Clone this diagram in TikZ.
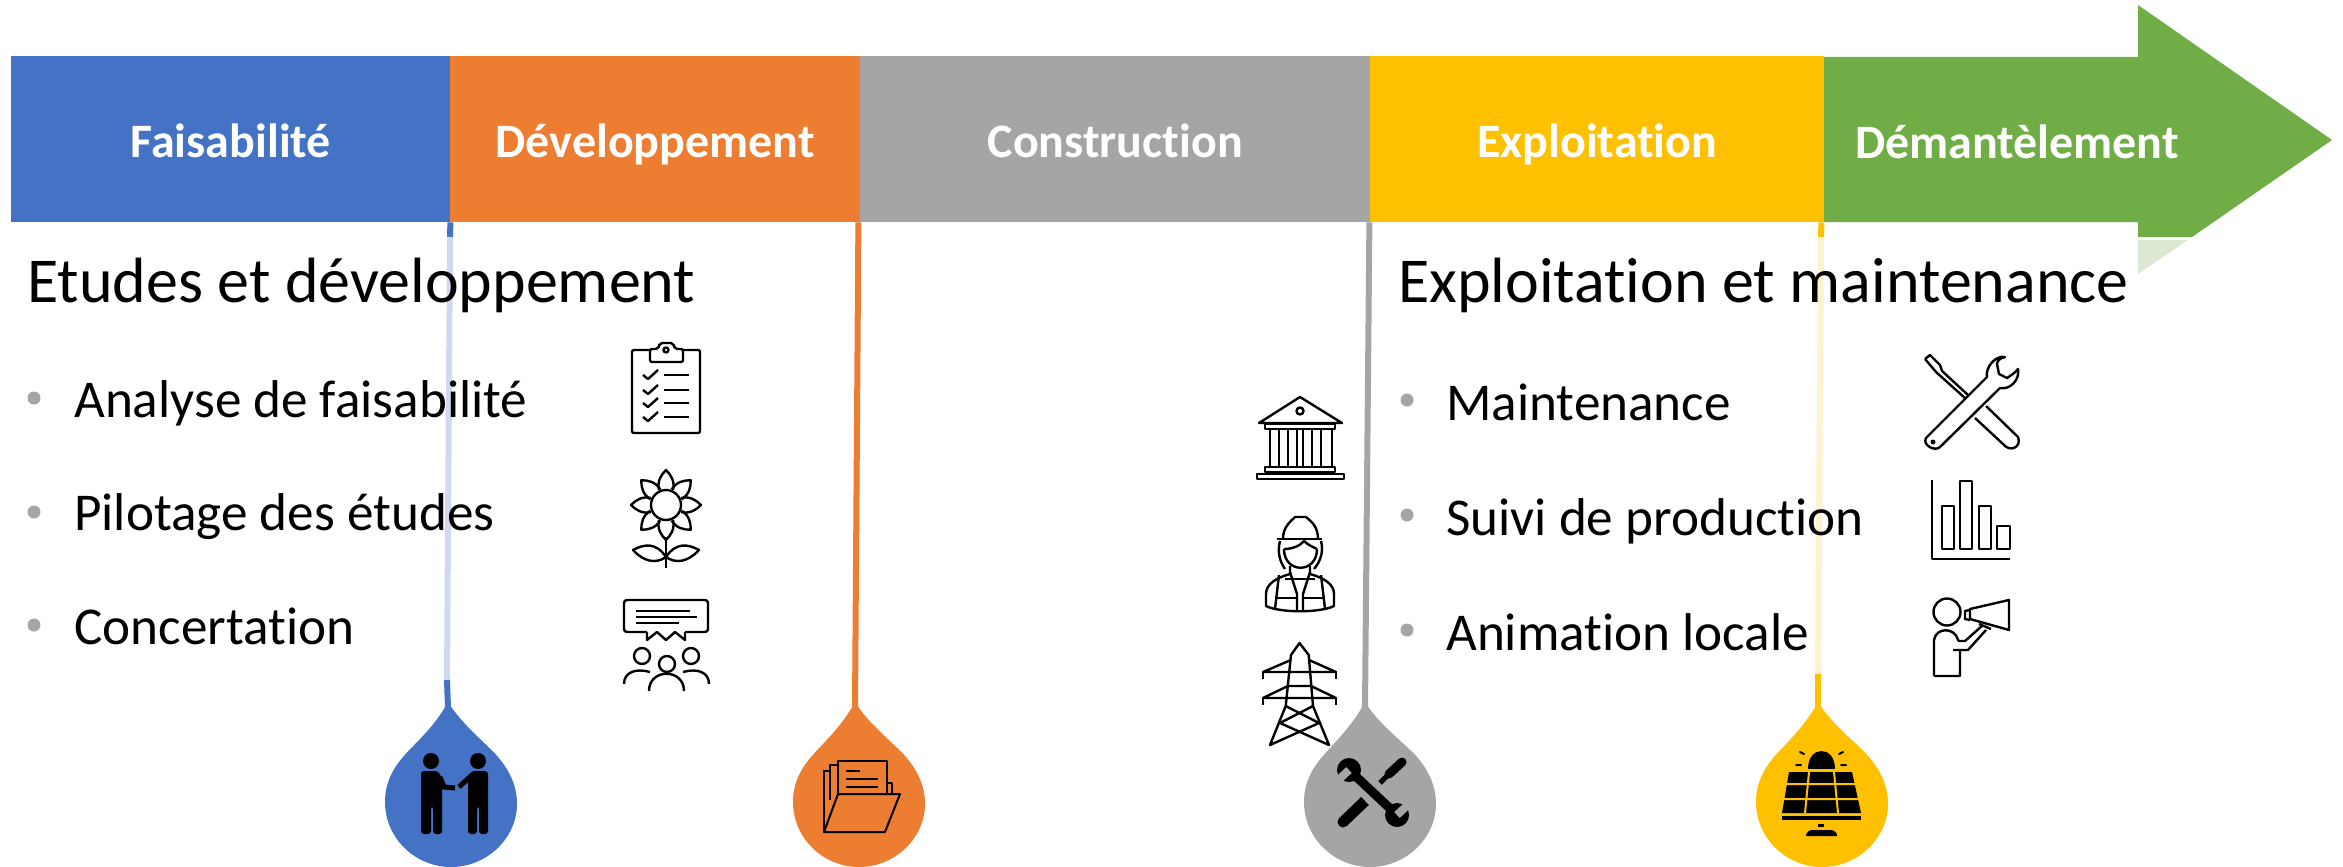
\documentclass[tikz,border=0pt]{standalone}
\usepackage{fontspec}
\setmainfont[Ligatures=NoCommon]{Carlito}
\usepackage{tikz}
\definecolor{bandblue}{HTML}{4472C4}
\definecolor{bandorange}{HTML}{ED7D31}
\definecolor{bandgrey}{HTML}{A5A5A5}
\definecolor{bandyellow}{HTML}{FFC000}
\definecolor{bandgreen}{HTML}{70AD47}
\definecolor{paleblue}{HTML}{CFDAF0}
\definecolor{paleyellow}{HTML}{FFF2CC}
\definecolor{palegreen}{HTML}{DDE8D3}
\tikzset{
 bandbox/.style={anchor=north west, minimum height=166pt, inner sep=0pt, text=white, text height=45pt, text depth=8pt, font=\fontsize{48}{48}\selectfont\bfseries},
 heading/.style={anchor=base west, inner sep=0pt, font=\fontsize{64}{64}\selectfont},
 listitem/.style={anchor=base west, inner sep=0pt, font=\fontsize{53.2}{53.2}\selectfont},
 dotmark/.style={circle, fill=bandgrey, minimum size=13pt, inner sep=0pt},
 stem/.style={line width=6pt},
 icon/.style={line width=2.4pt, line join=round},
}
\begin{document}
\begin{tikzpicture}[x=1pt,y=-1pt]
 \useasboundingbox (0,0) rectangle (2343,867);
 \coordinate (paleA) at (450,237);
 \coordinate (paleB) at (447,680);
 \coordinate (paleC) at (1821,237);
 \coordinate (paleD) at (1818,674);
 \foreach \nm/\cx/\nx/\col in {dropA/451/448/bandblue, dropB/859/855/bandorange, dropC/1370/1365/bandgrey, dropD/1822/1818/bandyellow}{
  \coordinate (\nm) at (\nx,708);
  \fill[\col] (\nx,702) .. controls (\nx-14,728) and (\cx-38,745) .. (\cx-48,757)
   .. controls (\cx-60,771) and (\cx-66,785) .. (\cx-66,802)
   .. controls (\cx-66,838) and (\cx-36,867) .. (\cx,867)
   .. controls (\cx+36,867) and (\cx+66,838) .. (\cx+66,804)
   .. controls (\cx+66,785) and (\cx+58,770) .. (\cx+47,757)
   .. controls (\cx+37,745) and (\nx+14,725) .. (\nx,702) -- cycle;
 }
 \fill[bandgreen] (1824,57) -- (2138,57) -- (2138,5) -- (2332,140) -- (2192,237) -- (2138,237) -- (2138,222) -- (1824,222) -- cycle;
 \fill[palegreen] (2138,240) -- (2188,240) -- (2138,274) -- cycle;
 \node[bandbox, fill=bandblue, minimum width=439pt] (faisa) at (11,56) {Faisabilité};
 \node[bandbox, fill=bandorange, minimum width=410pt] (devel) at (450,56) {Développement};
 \node[bandbox, fill=bandgrey, minimum width=510pt] (constr) at (860,56) {Construction};
 \node[bandbox, fill=bandyellow, minimum width=454pt] (exploit) at (1370,56) {Exploitation};
 \node[bandbox, anchor=center, minimum height=0pt] (demant) at (2017,139.5) {Démantèlement};
 \path[stem]
  (faisa.south east) edge[draw=bandblue] (paleA)
  (paleA) edge[draw=paleblue] (paleB)
  (paleB) edge[draw=bandblue] (dropA)
  ([xshift=-2pt]devel.south east) edge[draw=bandorange] (dropB)
  ([xshift=-1pt]constr.south east) edge[draw=bandgrey] (dropC)
  ([xshift=-3pt]exploit.south east) edge[draw=bandyellow] (paleC)
  (paleC) edge[draw=paleyellow] (paleD)
  (paleD) edge[draw=bandyellow] (dropD)
;
 \node[heading] (etudes) at (27,302) {Etudes et développement};
 \node[heading] (mainten) at (1398,302) {Exploitation et maintenance};
 \foreach \nm/\y/\base/\txt in {Analyse/398/417/Analyse de faisabilité, Pilotage/512/530/Pilotage des études, Concert/625/644/Concertation}{
  \node[dotmark] (dot\nm) at (34,\y) {};
  \node[listitem] (\nm) at (74,\base) {\txt};
 }
 \foreach \nm/\y/\base/\txt in {Maint/400/420/Maintenance, Suivi/515/535/Suivi de production, Animation/630/650/Animation locale}{
  \node[dotmark] (dot\nm) at (1407,\y) {};
  \node[listitem] (\nm) at (1446,\base) {\txt};
 }
 \begin{scope}[icon]
  \draw[rounded corners=2pt] (650,350) -- (632,350) -- (632,433) -- (700,433) -- (700,350) -- (683,350);
  \draw[rounded corners=2pt] (650,362) -- (650,349) -- (658,349) -- (660,343) -- (673,343) -- (675,349) -- (683,349) -- (683,362) -- cycle;
  \draw (666,350) circle (2.5pt);
  \foreach \y in {375,390,403,417}{
   \draw (664,\y) -- (689,\y);
   \draw (643,\y) -- (648,\y+4) -- (658,\y-5);
  }
  \draw (666,505) circle (15pt);
  \foreach \a in {0,45,...,315}{
   \draw[rotate around={\a:(666,505)}] (681,498) .. controls (690,496) and (696,500) .. (701,505) .. controls (696,510) and (690,514) .. (681,512);
  }
  \draw (666,537) -- (666,568);
  \draw (666,557) .. controls (656,542) and (644,544) .. (633,550) .. controls (644,562) and (656,564) .. (666,557)
   .. controls (676,542) and (688,544) .. (699,550) .. controls (688,562) and (676,564) .. (666,557);
  \draw[rounded corners=3pt] (647,632) -- (624,632) -- (624,600) -- (708,600) -- (708,632) -- (685,632);
  \draw (647,632) -- (647,640) -- (657,632) -- (666,640) -- (675,632) -- (685,640) -- (685,632);
  \draw (636,611) -- (690,611) (636,617) -- (697,617) (636,623) -- (679,623);
  \draw (642,656) circle (8pt) (667,664) circle (8pt) (691,656) circle (8pt);
  \draw (624,684) .. controls (624,672) and (636,668) .. (650,672);
  \draw (709,684) .. controls (709,672) and (697,668) .. (683,672);
  \draw (649,691) .. controls (649,668) and (684,668) .. (684,691);
  \draw (1259,423) -- (1300,397) -- (1342,423) -- cycle;
  \draw (1300,411) circle (3.5pt);
  \draw (1265,424) rectangle (1335,429);
  \foreach \x in {1270,1279,1288,1297,1303,1312,1321,1332}{
   \draw (\x,429) -- (\x,467);
  }
  \draw (1265,467) rectangle (1335,472);
  \draw (1257,474) rectangle (1344,479);
  \draw (1277,539) -- (1322,539);
  \draw (1283,539) .. controls (1283,527) and (1290,522) .. (1295,517) -- (1306,517) .. controls (1312,522) and (1318,527) .. (1318,539);
  \draw (1280,541) .. controls (1277,552) and (1280,562) .. (1285,569);
  \draw (1321,541) .. controls (1324,552) and (1320,562) .. (1314,569);
  \draw (1284,549) .. controls (1292,549) and (1300,546) .. (1304,541) .. controls (1308,545) and (1313,547) .. (1317,549);
  \draw (1284,549) .. controls (1284,574) and (1317,574) .. (1317,549);
  \draw (1290,566) -- (1290,574) .. controls (1276,578) and (1266,584) .. (1266,594) -- (1266,606) .. controls (1280,613) and (1320,613) .. (1334,606) -- (1334,594) .. controls (1334,584) and (1324,578) .. (1310,574) -- (1310,566);
  \draw (1290,572) -- (1297,594) -- (1297,610) (1310,572) -- (1303,594) -- (1303,610);
  \draw (1279,575) -- (1275,609) (1321,575) -- (1325,609);
  \draw (1276,598) -- (1297,598) (1303,598) -- (1324,598);
  \draw (1285,579) -- (1315,579);
  \draw (1285.7,706) -- (1291,655) -- (1299.5,643) -- (1308.7,655) -- (1313,706);
  \draw (1285.7,706) -- (1270,745) -- (1319,723) -- (1285.7,706);
  \draw (1313,706) -- (1329,745) -- (1280,723) -- (1313,706);
  \draw (1291,660) -- (1263,672) -- (1336,672) -- (1309,660);
  \draw (1263,672) -- (1263,679) (1336,672) -- (1336,679);
  \draw (1288,686) -- (1263,698) -- (1336,698) -- (1311,686) -- cycle;
  \draw (1263,698) -- (1263,705) (1336,698) -- (1336,705);
  \draw (1926,438) -- (1987,377) .. controls (1985,368) and (1995,355) .. (2005,357) .. controls (2000,358) and (1997,361) .. (1997,364) -- (1999,374) -- (2007,378) .. controls (2010,376) and (2015,373) .. (2018,369) .. controls (2020,380) and (2010,390) .. (2000,388) -- (1940,447) .. controls (1935,452) and (1922,445) .. (1926,438) -- cycle;
  \fill (1933,442) circle (2.5pt);
  \draw (1925,359) -- (1930,355) -- (1940,365) -- (1942,371) -- (1968,395);
  \draw (1925,359) -- (1936,372) -- (1966,399);
  \draw (1986,406) -- (2018,437) .. controls (2022,447) and (2010,453) .. (2003,444) -- (1975,418);
  \draw (1932,480) -- (1932,559) -- (2010,559);
  \draw (1942,506) rectangle (1954,549);
  \draw (1960,481) rectangle (1972,549);
  \draw (1979,506) rectangle (1991,549);
  \draw (1997,526) rectangle (2010,549);
  \draw (1947,612) circle (13.5pt);
  \draw (1934,676) -- (1934,640) .. controls (1936,627) and (1955,627) .. (1958,640) -- (1959,641) -- (1965,641) -- (1983,625);
  \draw (1986,630) -- (1968,650) -- (1953,650) (1960,650) -- (1960,676) -- (1934,676);
  \draw (1970,609) -- (2009,600) -- (2009,630) -- (1970,619) -- cycle;
  \draw (1970,610) -- (1965,611) -- (1965,619) -- (1970,620);
  \draw (1979,624) -- (1991,629);
 \end{scope}
 \draw[icon, line width=2pt] (838,794) -- (838,761) -- (887,761) -- (887,794);
 \draw[icon, line width=2pt] (838,765) -- (830,765) -- (830,800);
 \draw[icon, line width=2pt] (830,771) -- (824,771) -- (824,832);
 \draw[icon, line width=2pt] (887,783) -- (892,783) -- (892,794);
 \draw[icon, line width=2pt] (838,794) -- (900,794) -- (885,832) -- (824,832) -- cycle;
 \draw[icon, line width=2pt] (846,771) -- (860,771) (846,779) -- (878,779) (846,787) -- (878,787);
 \fill (431,761) circle (8pt) (478,761) circle (8pt);
 \fill[rounded corners=3pt] (421,771) -- (438,771) -- (442,778) -- (442,834) -- (433,834) -- (433,806) -- (431,806) -- (431,834) -- (421,834) -- cycle;
 \draw[line width=5pt] (440,777) -- (444,787) -- (455,788);
 \fill[rounded corners=3pt] (471,771) -- (488,771) -- (488,834) -- (479,834) -- (479,806) -- (477,806) -- (477,834) -- (468,834) -- (468,781) -- cycle;
 \draw[line width=5pt] (472,775) -- (459,787);
 \draw[line width=9pt] (1349,770) -- (1397,815);
 \fill (1349,770) circle (12pt) (1397,815) circle (12pt);
 \fill[bandgrey, rotate around={43:(1349,770)}] (1332,766) rectangle (1349,774);
 \fill[bandgrey, rotate around={43:(1397,815)}] (1397,811) rectangle (1414,819);
 \draw[line width=11pt] (1343,822) -- (1365,801);
 \fill (1343,822) circle (5.5pt);
 \draw[line width=5pt] (1380,783) -- (1388,775);
 \draw[line width=9pt, line cap=round] (1389,774) -- (1402,762);
 \fill (1808,769) .. controls (1808,745) and (1835,745) .. (1835,769) -- cycle;
 \fill (1789,772) -- (1852,772) -- (1861,813) -- (1782,813) -- cycle;
 \draw[bandyellow, line width=2pt] (1785,784) -- (1857,784) (1783,799) -- (1859,799) (1809,772) -- (1805,813) (1834,772) -- (1838,813);
 \fill (1782,816) rectangle (1861,820);
 \fill (1818,824) rectangle (1824,827);
 \fill[rounded corners=2pt] (1805,836) -- (1809,830) -- (1834,830) -- (1838,836) -- cycle;
 \draw[line width=2pt, line cap=round] (1800,752) -- (1804,754) (1843,752) -- (1839,754) (1796,765) -- (1801,765) (1841,765) -- (1846,765);
\end{tikzpicture}
\end{document}
